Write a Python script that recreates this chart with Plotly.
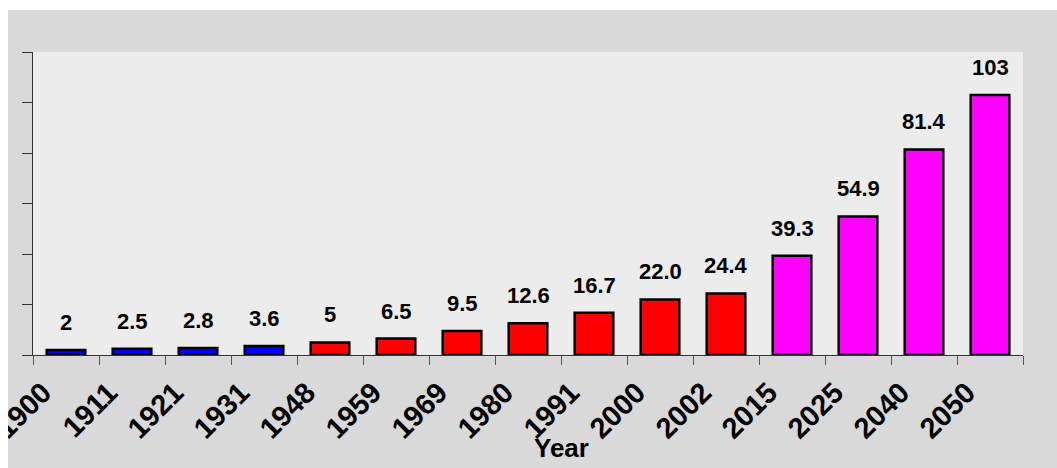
import plotly.graph_objects as go

years = ["1900", "1911", "1921", "1931", "1948", "1959", "1969", "1980",
         "1991", "2000", "2002", "2015", "2025", "2040", "2050"]
values = [2, 2.5, 2.8, 3.6, 5, 6.5, 9.5, 12.6, 16.7, 22.0, 24.4, 39.3, 54.9, 81.4, 103]
value_labels = ["2", "2.5", "2.8", "3.6", "5", "6.5", "9.5", "12.6", "16.7",
                "22.0", "24.4", "39.3", "54.9", "81.4", "103"]
bar_colors = ["#0000FF"] * 4 + ["#FF0000"] * 7 + ["#FF00FF"] * 4

FONT = "Liberation Sans, Arial, sans-serif"

fig = go.Figure()
fig.add_trace(go.Bar(
    x=years, y=values,
    marker=dict(color=bar_colors, line=dict(color="#000000", width=2.5)),
    hoverinfo="x+y",
))

for i, (v, lab) in enumerate(zip(values, value_labels)):
    fig.add_annotation(
        x=i, y=v, xref="x", yref="y", text="<b>%s</b>" % lab,
        showarrow=False, yanchor="bottom", yshift=13,
        font=dict(family=FONT, size=22, color="#000000"),
    )

fig.add_annotation(
    x=0.534, y=-0.307, xref="paper", yref="paper", text="<b>Year</b>",
    showarrow=False, xanchor="center", yanchor="middle",
    font=dict(family=FONT, size=26, color="#000000"),
)

# white page strips (top and left), the rest is the grey backdrop
fig.add_shape(type="rect", xref="paper", yref="paper",
              x0=-0.04, x1=1.05, y0=1.1386, y1=1.2,
              fillcolor="#ffffff", line=dict(width=0), layer="below")
fig.add_shape(type="rect", xref="paper", yref="paper",
              x0=-0.04, x1=-0.02525, y0=-0.4, y1=1.2,
              fillcolor="#ffffff", line=dict(width=0), layer="above")

fig.update_layout(
    width=1057, height=468,
    margin=dict(l=33, r=34, t=52, b=113, autoexpand=False),
    paper_bgcolor="#d9d9d9",
    plot_bgcolor="#ececec",
    bargap=0.415,
    showlegend=False,
    font=dict(family=FONT, color="#000000"),
)

fig.update_xaxes(
    type="category", range=[-0.5, len(years) - 0.5], automargin=False,
    showline=True, linecolor="#333333", linewidth=1,
    ticks="outside", ticklen=9, tickcolor="#555555", tickwidth=1,
    tickson="boundaries",
    tickangle=-45,
    tickfont=dict(family=FONT, size=29, color="#000000", weight="bold"),
    ticklabelshift=-23,
    ticklabelstandoff=8,
    showgrid=False, zeroline=False,
)
fig.update_yaxes(
    range=[0, 120], dtick=20, automargin=False,
    showline=True, linecolor="#333333", linewidth=1,
    ticks="outside", ticklen=10, tickcolor="#333333", tickwidth=1,
    showticklabels=False,
    showgrid=False, zeroline=False,
)

fig.write_html("out.html")
